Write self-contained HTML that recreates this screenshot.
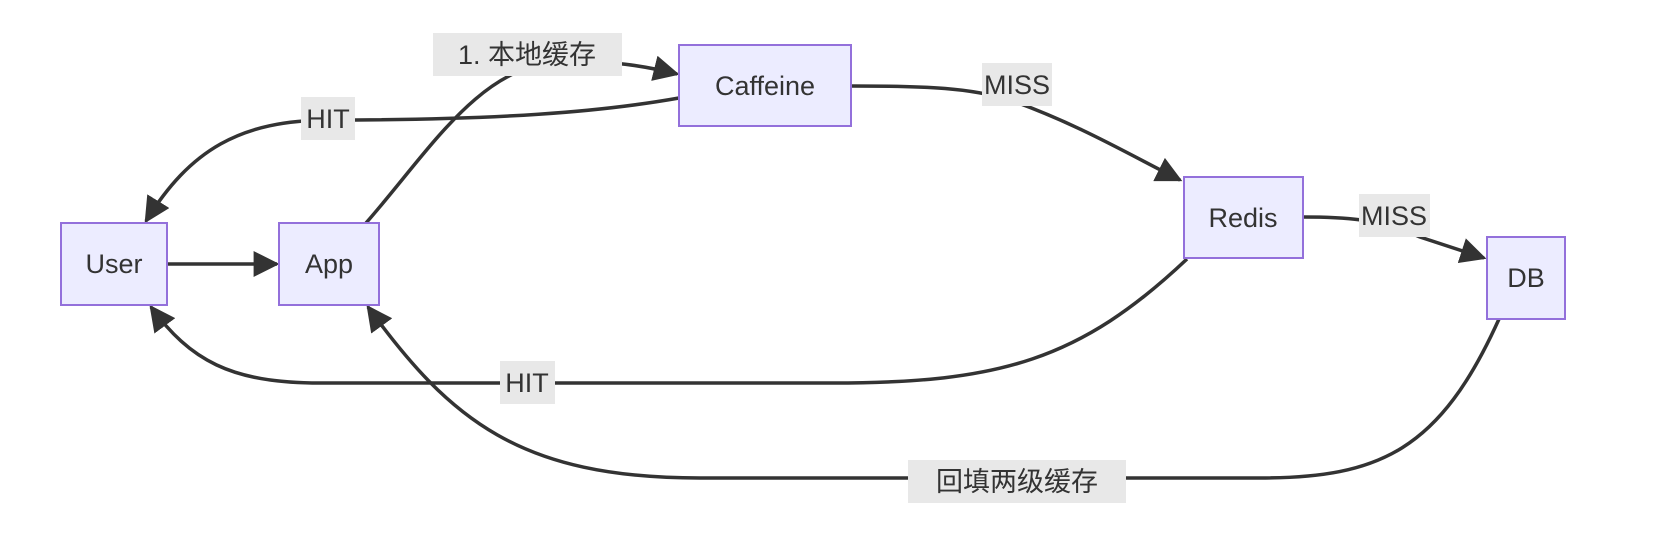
<!DOCTYPE html>
<html><head><meta charset="utf-8"><style>
html,body{margin:0;padding:0;background:#fff;}
svg{display:block;}
text{font-family:"Liberation Sans","Noto Sans CJK SC",sans-serif;font-size:27px;fill:#333;}
</style></head><body>
<svg width="1666" height="538" viewBox="0 0 1666 538" xmlns="http://www.w3.org/2000/svg">
<defs>
<marker id="a" viewBox="0 0 10 10" refX="9" refY="5" markerUnits="userSpaceOnUse" markerWidth="26" markerHeight="26" orient="auto">
<path d="M0,0 L10,5 L0,10 z" fill="#333"/>
</marker>
</defs>
<g fill="none" stroke="#333" stroke-width="3.5">
<path d="M166,264 L277,264" marker-end="url(#a)"/>
<path d="M366,223 C430,150 480,65 560,62 C610,60 645,66 677,74" marker-end="url(#a)"/>
<path d="M679,98 C600,112 500,120 330,120 C240,120 190,150 146,221" marker-end="url(#a)"/>
<path d="M851,86 C930,86 970,88 1010,100 C1080,125 1130,155 1180,180" marker-end="url(#a)"/>
<path d="M1303,217 C1340,217 1380,218 1420,237 L1484,258" marker-end="url(#a)"/>
<path d="M1187,259 C1080,360 1000,383 833,383 L320,383 C230,383 190,360 151,307" marker-end="url(#a)"/>
<path d="M1499,319 C1440,450 1380,478 1260,478 L700,478 C520,478 450,420 368,307" marker-end="url(#a)"/>
</g>
<g fill="#ECECFF" stroke="#9370DB" stroke-width="2">
<rect x="61" y="223" width="106" height="82"/>
<rect x="279" y="223" width="100" height="82"/>
<rect x="679" y="45" width="172" height="81"/>
<rect x="1184" y="177" width="119" height="81"/>
<rect x="1487" y="237" width="78" height="82"/>
</g>
<g text-anchor="middle">
<text x="114" y="273">User</text>
<text x="329" y="273">App</text>
<text x="765" y="95">Caffeine</text>
<text x="1243" y="227">Redis</text>
<text x="1526" y="287">DB</text>
</g>
<g fill="#e8e8e8">
<rect x="433" y="33" width="189" height="43"/>
<rect x="301" y="97" width="54" height="43"/>
<rect x="500" y="361" width="55" height="43"/>
<rect x="982" y="63" width="70" height="43"/>
<rect x="1359" y="194" width="71" height="43"/>
<rect x="908" y="460" width="218" height="43"/>
</g>
<g text-anchor="middle">
<text x="527" y="64">1. 本地缓存</text>
<text x="328" y="128">HIT</text>
<text x="527" y="392">HIT</text>
<text x="1017" y="94">MISS</text>
<text x="1394" y="225">MISS</text>
<text x="1017" y="491">回填两级缓存</text>
</g>
</svg>
</body></html>
